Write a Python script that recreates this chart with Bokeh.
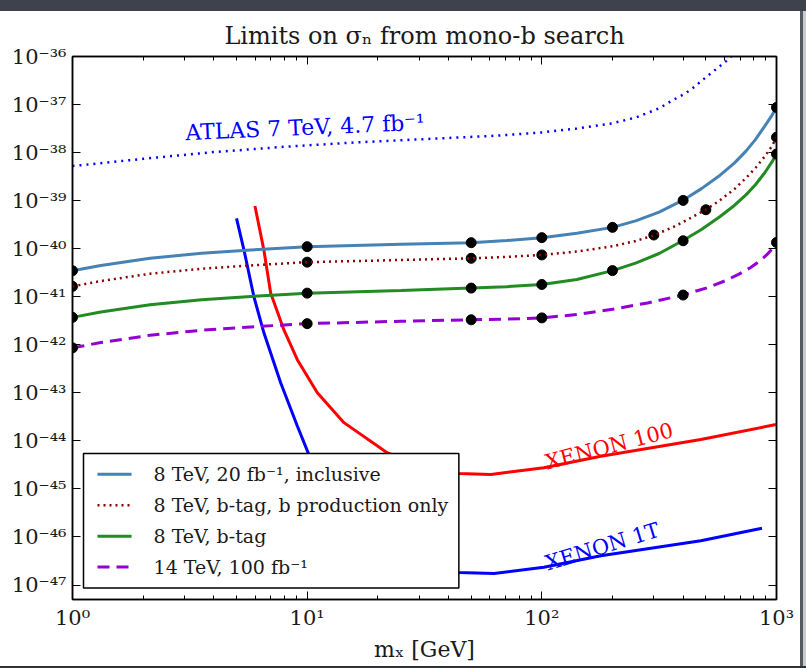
from bokeh.plotting import figure
from bokeh.models import (FixedTicker, CustomJSTickFormatter, LogAxis, Label, BoxAnnotation,
                          Div, Range1d)
from bokeh.layouts import column, row
from bokeh.embed import file_html
from bokeh.resources import INLINE

# ---------------- data ----------------
# curves: dark-matter mass m_X [GeV] and log10 of the cross-section limit [cm^2]
incl_x = [1, 1.32, 2.14, 3.55, 5.75, 10, 25.1, 50, 70.8, 100, 141, 200, 251, 316, 398, 479,
          575, 661, 741, 813, 891, 955, 1000]
incl_lg = [-40.46, -40.35, -40.20, -40.095, -40.026, -39.958, -39.908, -39.875, -39.83, -39.77,
           -39.68, -39.556, -39.42, -39.24, -38.995, -38.75, -38.47, -38.22, -37.97, -37.73,
           -37.45, -37.23, -37.06]
incl_dot_x = [1, 10, 50, 100, 200, 400, 1000]
incl_dot_lg = [-40.46, -39.958, -39.875, -39.77, -39.556, -38.995, -37.06]

bprod_x = [1, 1.32, 2.14, 3.55, 5.75, 10, 25.1, 50, 70.8, 100, 141, 200, 251, 302, 363, 427,
           501, 575, 661, 741, 813, 891, 955, 1000]
bprod_lg = [-40.784, -40.674, -40.521, -40.417, -40.348, -40.28, -40.235, -40.20, -40.17, -40.13,
            -40.06, -39.95, -39.84, -39.715, -39.55, -39.37, -39.185, -38.99, -38.76, -38.53,
            -38.32, -38.08, -37.87, -37.68]
bprod_dot_x = [1, 10, 50, 100, 300, 500, 1000]
bprod_dot_lg = [-40.784, -40.28, -40.20, -40.13, -39.715, -39.19, -37.68]

btag_x = [1, 1.32, 2.14, 3.55, 5.75, 10, 25.1, 50, 70.8, 100, 141, 200, 251, 316, 398, 479,
          575, 661, 741, 813, 891, 955, 1000]
btag_lg = [-41.429, -41.319, -41.166, -41.062, -40.993, -40.925, -40.868, -40.82, -40.79, -40.745,
           -40.64, -40.456, -40.30, -40.10, -39.835, -39.60, -39.33, -39.10, -38.88, -38.67,
           -38.42, -38.20, -38.03]
btag_dot_x = [1, 10, 50, 100, 200, 400, 1000]
btag_dot_lg = [-41.429, -40.925, -40.82, -40.745, -40.456, -39.835, -38.03]

tev14_x = [1, 1.32, 2.14, 3.55, 5.75, 10, 25.1, 50, 70.8, 100, 141, 200, 282, 398, 501, 603,
           692, 776, 851, 912, 955, 1000]
tev14_lg = [-42.064, -41.954, -41.801, -41.697, -41.628, -41.56, -41.51, -41.48, -41.465, -41.44,
            -41.37, -41.26, -41.13, -40.965, -40.82, -40.67, -40.53, -40.39, -40.25, -40.12,
            -40.01, -39.87]
tev14_dot_x = [1, 10, 50, 100, 400, 1000]
tev14_dot_lg = [-42.064, -41.56, -41.48, -41.44, -40.965, -39.87]

atlas_x = [1, 2.0, 3.98, 7.94, 15.85, 31.6, 63.1, 100, 141, 200, 251, 316, 355, 398, 432,
           501, 609, 708]
atlas_lg = [-38.28, -38.13, -37.99, -37.88, -37.79, -37.72, -37.65, -37.58, -37.50, -37.39,
            -37.27, -37.08, -36.93, -36.80, -36.69, -36.43, -36.10, -35.80]

xe100_x = [5.99, 6.54, 6.99, 7.96, 9.08, 11.05, 14.35, 22.0, 30, 44.3, 60.6, 102, 178.5, 476, 995]
xe100_lg = [-39.11, -40.03, -40.92, -41.69, -42.31, -43.0, -43.62, -44.25, -44.5, -44.68, -44.70,
            -44.56, -44.32, -43.97, -43.66]

xe1t_x = [5.0, 5.38, 5.93, 6.54, 7.71, 9.08, 10.1, 15, 25, 44.3, 62.6, 102, 178.5, 476, 867]
xe1t_lg = [-39.37, -40.03, -41.0, -41.75, -42.79, -43.69, -44.25, -45.7, -46.5, -46.74, -46.76,
           -46.63, -46.39, -46.08, -45.82]

legend_labels = ["8 TeV, 20 fb\u207b\u00b9, inclusive",
                 "8 TeV, b-tag, b production only",
                 "8 TeV, b-tag",
                 "14 TeV, 100 fb\u207b\u00b9"]

x_major = [1, 10, 100, 1000]
y_major = [10.0 ** e for e in range(-47, -35)]
x_minor = [k * 10.0 ** d for d in range(0, 3) for k in range(2, 10)]


def lin(lg):
    return [10.0 ** v for v in lg]


FONT = "DejaVu Serif"
INK = "#1a1a1a"

# ---------------- figure ----------------
p = figure(width=800, height=655, x_axis_type="log", y_axis_type="log",
           x_range=Range1d(1, 1000), y_range=Range1d(5e-48, 1e-36),
           output_backend="svg", toolbar_location=None,
           min_border_left=72, min_border_right=24, min_border_top=45, min_border_bottom=67,
           background_fill_color="white", border_fill_color="white")
p.grid.visible = False
p.outline_line_color = "black"
p.outline_line_width = 1.5

p.title.text = "Limits on \u03c3\u2099 from mono-b search"
p.title.align = "center"
p.title.text_font = FONT
p.title.text_font_size = "24px"
p.title.text_font_style = "normal"
p.title.text_color = INK
p.title.standoff = 4

sup = CustomJSTickFormatter(code="""
const m = {"-": "\\u207b", "0": "\\u2070", "1": "\\u00b9", "2": "\\u00b2", "3": "\\u00b3",
           "4": "\\u2074", "5": "\\u2075", "6": "\\u2076", "7": "\\u2077", "8": "\\u2078",
           "9": "\\u2079"};
const e = Math.round(Math.log10(tick));
let s = "10";
for (const c of String(e)) { s += m[c]; }
return s;
""")
blank = CustomJSTickFormatter(code="return ' ';")

xt = FixedTicker(ticks=x_major, minor_ticks=x_minor)
yt = FixedTicker(ticks=y_major, minor_ticks=[])

for ax in p.xaxis:
    ax.ticker = xt
    ax.formatter = sup
for ax in p.yaxis:
    ax.ticker = yt
    ax.formatter = sup

for ax in p.xaxis + p.yaxis:
    ax.major_tick_in = 8
    ax.major_tick_out = 0
    ax.minor_tick_in = 4
    ax.minor_tick_out = 0
    ax.axis_line_width = 1.5
    ax.major_tick_line_width = 1
    ax.major_label_text_font = FONT
    ax.major_label_text_font_size = "21px"
    ax.major_label_text_color = INK
    ax.major_label_standoff = 6

p.xaxis.axis_label = "m\u2093 [GeV]"
p.xaxis.axis_label_text_font = FONT
p.xaxis.axis_label_text_font_size = "22px"
p.xaxis.axis_label_text_font_style = "normal"
p.xaxis.axis_label_text_color = INK
p.xaxis.axis_label_standoff = 4

top_ax = LogAxis(ticker=xt, formatter=blank, major_label_text_font_size="2px",
                 major_tick_in=8, major_tick_out=0,
                 minor_tick_in=4, minor_tick_out=0, axis_line_width=1.5, major_label_standoff=0)
right_ax = LogAxis(ticker=yt, formatter=blank, major_label_text_font_size="2px",
                   major_tick_in=8, major_tick_out=0,
                   minor_tick_in=0, minor_tick_out=0, axis_line_width=1.5, major_label_standoff=0)
p.add_layout(top_ax, "above")
p.add_layout(right_ax, "right")

# ---------------- glyphs ----------------
p.line(atlas_x, lin(atlas_lg), line_color="#0000ff", line_width=2.5, line_dash="2 5")
p.line(xe100_x, lin(xe100_lg), line_color="#ff0000", line_width=3)
p.line(xe1t_x, lin(xe1t_lg), line_color="#0000ff", line_width=3)

p.line(incl_x, lin(incl_lg), line_color="#4682b4", line_width=3)
p.line(btag_x, lin(btag_lg), line_color="#228b22", line_width=3)
p.line(tev14_x, lin(tev14_lg), line_color="#9400d3", line_width=3, line_dash="12 7")

for dx, dy in [(incl_dot_x, incl_dot_lg), (bprod_dot_x, bprod_dot_lg),
               (btag_dot_x, btag_dot_lg), (tev14_dot_x, tev14_dot_lg)]:
    p.scatter(dx, lin(dy), size=10, fill_color="black", line_color="black")

p.line(bprod_x, lin(bprod_lg), line_color="#8b0000", line_width=2.5, line_dash="2 4")

# ---------------- legend (drawn by hand so its text can be serif) ----------------
LEG_BOX = dict(left=1.114, right=44.3, top=5.48e-45, bottom=8.65e-48)
p.add_layout(BoxAnnotation(**LEG_BOX, fill_color="white", fill_alpha=1,
                           line_color="black", line_width=1.5, line_alpha=1,
                           level="annotation"))

LEG_SAMPLE_X = [1.278, 1.785]
LEG_ROW_Y = [2.01e-45, 4.57e-46, 1.04e-46, 2.36e-47]
LEG_STYLES = [dict(line_color="#4682b4", line_width=3),
              dict(line_color="#8b0000", line_width=2.5, line_dash="2 4"),
              dict(line_color="#228b22", line_width=3),
              dict(line_color="#9400d3", line_width=3, line_dash="12 7")]
LEG_TEXT_X = 2.215
for lab, ly, st in zip(legend_labels, LEG_ROW_Y, LEG_STYLES):
    p.line(LEG_SAMPLE_X, [ly, ly], level="overlay", **st)
    p.add_layout(Label(x=LEG_TEXT_X, y=ly, text=lab, text_font=FONT, text_font_size="19px",
                       text_color=INK, text_baseline="middle", text_align="left",
                       level="overlay"))

# ---------------- text labels ----------------
p.add_layout(Label(x=3.03, y=2.6e-38, text="ATLAS 7 TeV, 4.7 fb\u207b\u00b9", angle=2.5,
                   angle_units="deg", text_color="#0000ff", text_font=FONT,
                   text_font_size="22px", text_baseline="alphabetic"))
p.add_layout(Label(x=104, y=3.5e-45, text="XENON 100", angle=14.5, angle_units="deg",
                   text_color="#ff0000", text_font=FONT, text_font_size="21px",
                   text_baseline="alphabetic"))
p.add_layout(Label(x=104, y=2.75e-47, text="XENON 1T", angle=17, angle_units="deg",
                   text_color="#0000ff", text_font=FONT, text_font_size="21px",
                   text_baseline="alphabetic"))

# ---------------- slide frame ----------------
top_strip = Div(width=806, height=11, margin=0, styles={"background-color": "#3d424c"})
right_strip = Div(width=6, height=655, margin=0,
                  styles={"background": "linear-gradient(to right, #555a60 0px, #555a60 3px, #c9cbcf 3px)"})
bottom_strip = Div(width=806, height=2, margin=0, styles={"background-color": "#2e3138"})

layout = column(top_strip, row(p, right_strip, spacing=0), bottom_strip, spacing=0)

open("out.html", "w").write(file_html(layout, INLINE))
